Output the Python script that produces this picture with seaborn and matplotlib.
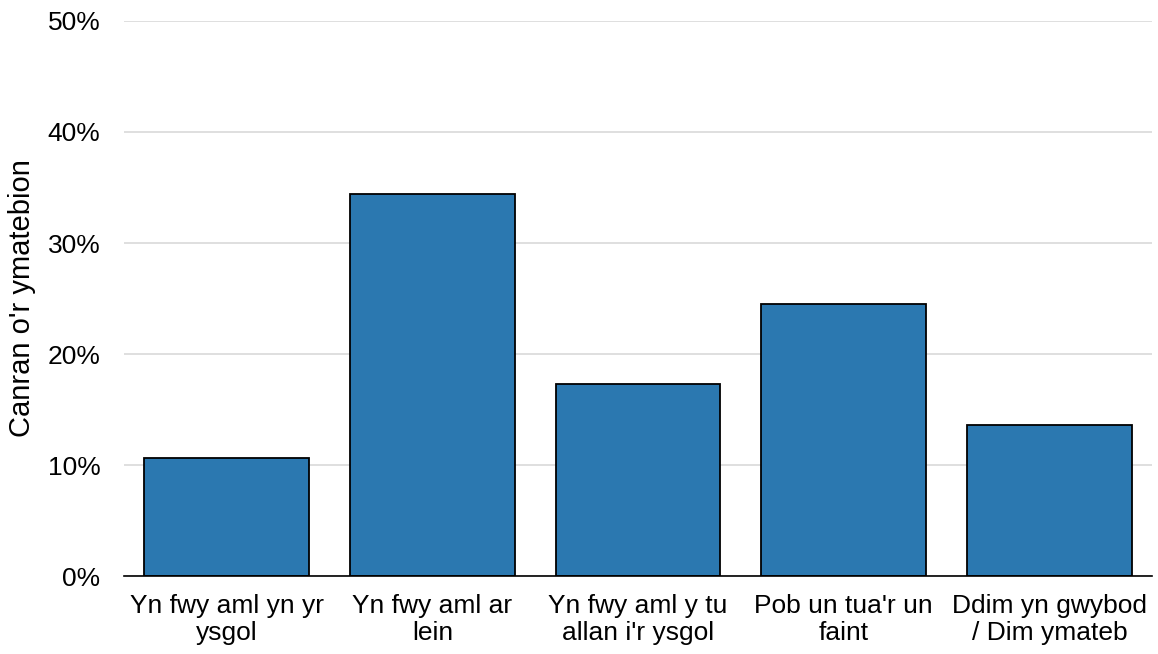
import matplotlib.pyplot as plt
import pandas as pd
import seaborn as sns

categories = ["Yn fwy aml yn yr\nysgol", "Yn fwy aml ar\nlein", "Yn fwy aml y tu\nallan i'r ysgol",
              "Pob un tua'r un\nfaint", "Ddim yn gwybod\n/ Dim ymateb"]
values = [10.6, 34.4, 17.3, 24.5, 13.6]
yticks = [0, 10, 20, 30, 40, 50]

sns.set_style('white')
plt.rcParams['font.family'] = ['Liberation Sans', 'DejaVu Sans']
plt.rcParams['text.color'] = 'black'
plt.rcParams['xtick.color'] = 'black'
plt.rcParams['ytick.color'] = 'black'
plt.rcParams['axes.labelcolor'] = 'black'

df = pd.DataFrame({'cat': categories, 'val': values})

fig = plt.figure(figsize=(11.58, 6.54), dpi=100)
ax = fig.add_axes([0.107, 0.119, 0.888, 0.849])
sns.barplot(data=df, x='cat', y='val', color='#2b78b0', saturation=1,
            edgecolor='black', linewidth=1.3, width=0.8, ax=ax, zorder=3)
ax.set_ylim(0, 50)
ax.set_xlim(-0.5, 4.5)
ax.set_yticks(yticks)
ax.set_yticklabels([f'{t}%' for t in yticks])
ax.grid(axis='y', color='#d9d9d9', linewidth=1.2, zorder=0)
for s in ['top', 'right', 'left']:
    ax.spines[s].set_visible(False)
ax.spines['bottom'].set_color('black')
ax.spines['bottom'].set_linewidth(1.2)
ax.spines['bottom'].set_zorder(4)
ax.tick_params(axis='y', length=0, labelsize=19, pad=17)
ax.tick_params(axis='x', length=0, labelsize=19, pad=13)
for lbl in ax.get_xticklabels():
    lbl.set_linespacing(1.12)
ax.set_xlabel('')
ax.set_ylabel("Canran o'r ymatebion", fontsize=21, labelpad=8)

fig.savefig('out.png', dpi=100)
